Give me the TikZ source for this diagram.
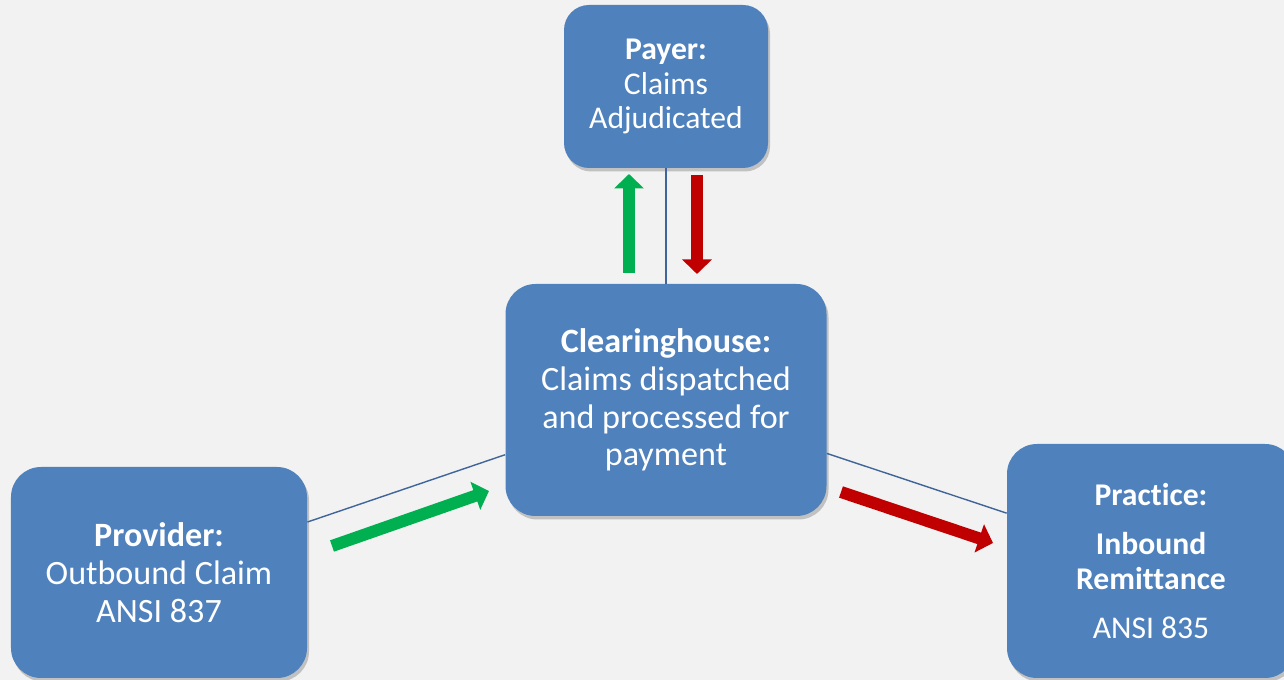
\documentclass[tikz,border=0pt]{standalone}
\usepackage{fontspec}
\setmainfont{Carlito}[Ligatures=NoCommon,Contextuals=NoAlternate]
\usetikzlibrary{arrows.meta,shadows}

\definecolor{bgGray}{HTML}{F2F2F2}
\definecolor{boxBlue}{HTML}{4F81BD}
\definecolor{lineBlue}{HTML}{3F659A}
\definecolor{okGreen}{HTML}{00B050}
\definecolor{backRed}{HTML}{C00000}

\begin{document}
\begin{tikzpicture}[x=1cm,y=1cm,
    party/.style={fill=boxBlue, draw=none, rounded corners=0.6cm, text=white, align=center,
      drop shadow={shadow xshift=0.04cm, shadow yshift=-0.07cm, opacity=0.2, fill=black}},
    link/.style={draw=lineBlue, line width=0.8pt},
    flow/.style={line width=0.24cm, -{Triangle[length=0.29cm,width=0.58cm]}},
  ]
  \fill[bgGray] (0,0) rectangle (25.68,13.6);
  \clip (0,0) rectangle (25.68,13.6);

  % boxes
  \node[party, rounded corners=0.5cm, minimum width=4.08cm, minimum height=3.26cm,
    font=\fontsize{18}{19.7}\selectfont] (payer) at (13.32,11.87)
    {\textbf{Payer:}\\Claims\\Adjudicated};
  \node[party, minimum width=6.42cm, minimum height=4.64cm,
    font=\fontsize{19.4}{21.5}\selectfont] (clear) at (13.32,5.6)
    {\textbf{Clearinghouse:}\\Claims dispatched\\and processed for\\payment};
  \node[party, minimum width=5.92cm, minimum height=4.22cm,
    font=\fontsize{19.4}{21.5}\selectfont] (provider) at (3.18,2.15)
    {\textbf{Provider:}\\Outbound Claim\\ANSI 837};
  \node[party, minimum width=5.76cm, minimum height=4.68cm,
    font=\fontsize{18}{19.8}\selectfont] (practice) at (23.02,2.38)
    {\textbf{Practice:}\\[8pt]\textbf{Inbound}\\\textbf{Remittance}\\[8pt]ANSI 835};

  % links
  \draw[link] (payer) -- (clear);
  \draw[link] (clear) -- (provider);
  \draw[link] (clear) -- (practice);

  % flows
  \coordinate (upTail) at (12.58,8.14);
  \coordinate (upHead) at (12.58,10.12);
  \coordinate (downTail) at (13.94,10.10);
  \coordinate (downHead) at (13.94,8.12);
  \coordinate (inTail) at (6.64,2.68);
  \coordinate (inHead) at (9.78,3.78);
  \coordinate (outTail) at (16.82,3.76);
  \coordinate (outHead) at (19.86,2.74);
  \draw[flow, okGreen] (upTail) -- (upHead);
  \draw[flow, backRed] (downTail) -- (downHead);
  \draw[flow, okGreen] (inTail) -- (inHead);
  \draw[flow, backRed] (outTail) -- (outHead);
\end{tikzpicture}
\end{document}
